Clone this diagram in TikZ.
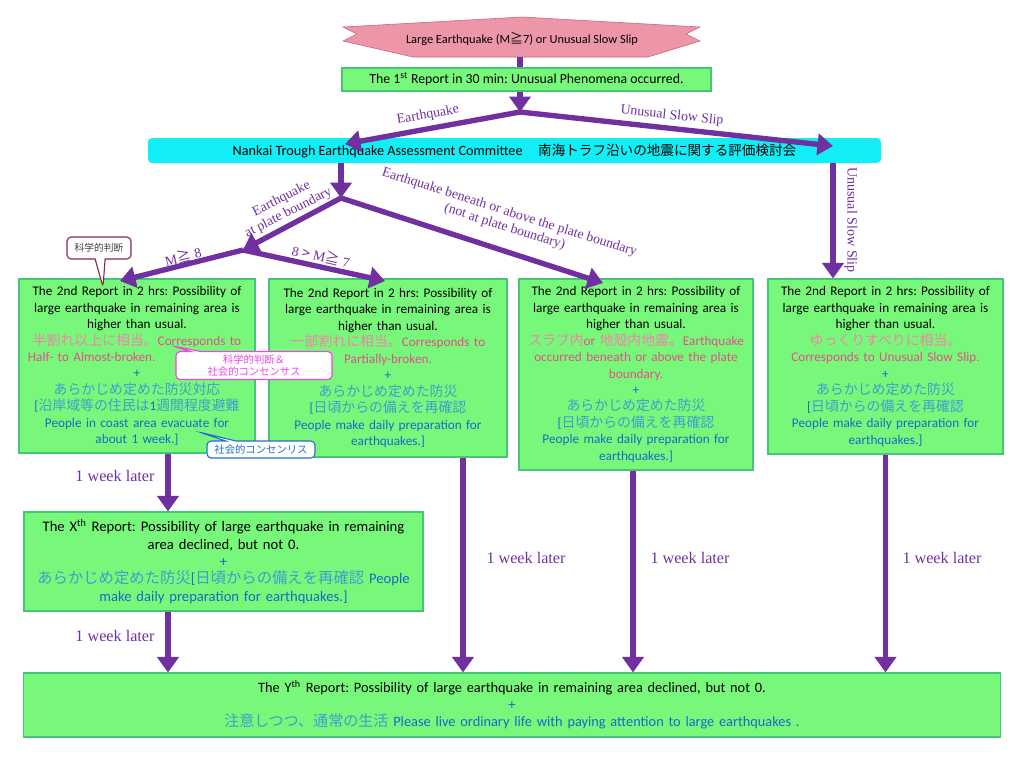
\documentclass[tikz,border=0pt]{standalone}
\usepackage{fontspec}
\setmainfont{Carlito}
\newfontfamily\jp[Scale=1.05]{Noto Sans CJK JP}
\newfontfamily\lblfont{Liberation Serif}
\usetikzlibrary{arrows.meta}
\usetikzlibrary{shapes.callouts}

\definecolor{arrowpurple}{RGB}{112,48,160}
\definecolor{boxgreen}{RGB}{120,248,122}
\definecolor{boxedge}{RGB}{70,196,120}
\definecolor{cttcyan}{RGB}{18,238,246}
\definecolor{starpink}{RGB}{236,150,168}
\definecolor{staredge}{RGB}{205,95,125}
\definecolor{jppink}{RGB}{242,130,172}
\definecolor{enpink}{RGB}{228,78,140}
\definecolor{jpblue}{RGB}{62,158,206}
\definecolor{enblue}{RGB}{26,104,200}
\definecolor{notered}{RGB}{140,40,60}
\definecolor{notemag}{RGB}{238,70,228}
\definecolor{noteblue}{RGB}{40,110,200}

\newcommand\repfont[2]{\fontsize{#1}{#2}\selectfont\frenchspacing\lineskiplimit=-20pt\relax}
\newcommand\jpp[1]{{\color{jppink}\jp #1}}
\newcommand\enp[1]{{\color{enpink}#1}}
\newcommand\jpb[1]{{\color{jpblue}\jp #1}}
\newcommand\enb[1]{{\color{enblue}#1}}
\newcommand\secondhead{The 2nd Report in 2 hrs: Possibility of\\
large earthquake in remaining area is\\
higher than usual.}
\newcommand\dailyprep{\jpb{あらかじめ定めた防災}\\
\enb{[}\jpb{日頃からの備えを再確認}\\
\enb{People make daily preparation for}\\
\enb{earthquakes.]}}

\begin{document}
\begin{tikzpicture}[x=0.025cm, y=-0.025cm]
\tikzstyle{report} = [draw=boxedge, line width=0.8pt, fill=boxgreen, inner sep=0pt, align=center, font=\repfont{9.4}{11.7}]
\tikzstyle{flow} = [draw=arrowpurple, line width=3.8pt, -{Triangle[length=11pt,width=15pt]}]
\tikzstyle{lbl} = [text=arrowpurple, align=center, font=\lblfont\fontsize{9.8}{10.8}\selectfont]
\tikzstyle{later} = [text=arrowpurple, font=\lblfont\fontsize{11.5}{13}\selectfont]
\tikzstyle{note} = [rectangle callout, fill=white, rounded corners=3pt, line width=0.8pt, align=center, inner sep=1pt]
\useasboundingbox (0,0) rectangle (1024,765);

\draw[fill=starpink, draw=staredge] (343,27) -- (522,17) -- (700,27) -- (686,34) -- (700,41) -- (648,57) -- (413,57) -- (343,41) -- (357,34) -- cycle;
\node[font=\repfont{8.8}{10}] (quake) at (522,39) {Large Earthquake (M{\jp ≧}7) or Unusual Slow Slip};
\coordinate (starbot) at (520,57);

\node[report, minimum width=9.225cm, minimum height=0.575cm, font=\repfont{9.8}{11}] (rep1) at (526.5,79.5) {The 1\textsuperscript{st} Report in 30 min: Unusual Phenomena occurred.};
\node[fill=cttcyan, rounded corners=3pt, minimum width=18.325cm, minimum height=0.625cm, inner sep=0pt, font=\repfont{10.1}{11}] (cttee) at (514.5,150.5) {Nankai Trough Earthquake Assessment Committee\hspace{1.1em}{\fontsize{9.2}{11}\selectfont\jp 南海トラフ沿いの地震に関する評価検討会}};

\node[report, text width=5.9cm, minimum height=4.35cm] (rep2a) at (137,366) {\secondhead\\
\jpp{半割れ以上に相当。}\enp{Corresponds to}\\
\makebox[5.45cm][l]{\enp{Half- to Almost-broken.}}\\
\enb{+}\\
\jpb{あらかじめ定めた防災対応}\\
\enb{[}\jpb{沿岸域等の住民は}\enb{1}\jpb{週間程度避難}\\
\enb{People in coast area evacuate for}\\
\enb{about 1 week.]}};
\node[report, text width=5.95cm, minimum height=4.45cm] (rep2b) at (388,368) {\secondhead\\
\jpp{一部割れに相当。}\enp{Corresponds to}\\
\enp{Partially-broken.}\\
\enb{+}\\
\dailyprep};
\node[report, text width=5.85cm, minimum height=4.775cm] (rep2c) at (636,374.5) {\secondhead\\
\jpp{スラブ内}\enp{or }\jpp{地殻内地震。}\enp{Earthquake}\\
\enp{occurred beneath or above the plate}\\
\enp{boundary.}\\
\enb{+}\\
\dailyprep};
\node[report, text width=5.875cm, minimum height=4.375cm] (rep2d) at (885.5,366.5) {\secondhead\\
\jpp{ゆっくりすべりに相当。}\\
\enp{Corresponds to Unusual Slow Slip.}\\
\enb{+}\\
\dailyprep};

\node[report, text width=9.975cm, minimum height=2.475cm, font=\repfont{10.4}{12.4}] (repx) at (223.5,561.5) {The X\textsuperscript{th} Report: Possibility of large earthquake in remaining\\
area declined, but not 0.\\
\enb{+}\\
\jpb{あらかじめ定めた防災}\enb{[}\jpb{日頃からの備えを再確認} \enb{People}\\
\enb{make daily preparation for earthquakes.]}};
\node[report, text width=24.4cm, minimum height=1.6cm, font=\repfont{10.2}{12}] (repy) at (512,705) {The Y\textsuperscript{th} Report: Possibility of large earthquake in remaining area declined, but not 0.\\
\enb{+}\\
\jpb{注意しつつ、通常の生活} \enb{Please live ordinary life with paying attention to large earthquakes .}};

\node[note, draw=notered, text=black!75, minimum width=1.6cm, minimum height=0.55cm, callout absolute pointer={(103,287)}, font=\fontsize{6.6}{7.5}\selectfont] (judge) at (99,248) {\jp 科学的判断};
\node[note, draw=notemag, text=notemag, minimum width=3.9cm, minimum height=0.7cm, callout absolute pointer={(173,346)}, font=\fontsize{7}{9}\selectfont] (judgesoc) at (254,365.5) {\jp 科学的判断＆\\\jp 社会的コンセンサス};
\node[note, draw=noteblue, text=noteblue, minimum width=2.7cm, minimum height=0.425cm, callout absolute pointer={(199,432)}, font=\fontsize{7}{8}\selectfont] (social) at (261,449.5) {\jp 社会的コンセンリス};

\coordinate (fork1) at (520,112);
\coordinate (fork2) at (341,198);
\coordinate (fork3) at (243,250);
\coordinate (eqend) at (345,144);
\coordinate (ssend) at (833,146);
\coordinate (beneath) at (603,283);
\coordinate (m8) at (120,281);
\coordinate (m7) at (385,281);
\coordinate (colx) at (168,500);
\coordinate (colb) at (463,500);
\coordinate (colc) at (633,500);

\draw[draw=arrowpurple, line width=4pt] (starbot) -- (rep1.north -| starbot);
\draw[flow] (rep1.south -| fork1) -- (fork1);
\draw[flow] (fork1) -- (eqend);
\draw[flow] (fork1) -- (ssend);
\draw[flow] (cttee.south -| fork2) -- (fork2);
\draw[flow] (fork2) -- (fork3);
\draw[flow] (fork2) -- (beneath);
\draw[flow] (fork3) -- (m8);
\draw[flow] (fork3) -- (m7);
\draw[flow] (cttee.south -| ssend) -- (rep2d.north -| ssend);
\draw[flow] (rep2a.south -| colx) -- (repx.north -| colx);
\draw[flow] (repx.south -| colx) -- (repy.north -| colx);
\draw[flow] (rep2b.south -| colb) -- (repy.north -| colb);
\draw[flow] (rep2c.south -| colc) -- (repy.north -| colc);
\draw[flow] (rep2d.south) -- (repy.north -| rep2d.south);

\node[lbl, rotate=10] (lbleq) at (428,115) {Earthquake};
\node[lbl, rotate=-6] (lblss) at (672,116) {Unusual Slow Slip};
\node[lbl, rotate=27] (lblplate) at (285,206) {Earthquake\\at plate boundary};
\node[lbl, rotate=-17.5] (lblbeneath) at (507,220) {Earthquake beneath or above the plate boundary\\(not at plate boundary)};
\node[lbl, rotate=14] (lblm8) at (183,256) {M{\jp ≧} 8};
\node[lbl, rotate=-13] (lblm7) at (321,256) {8 {\jp >} M{\jp ≧} 7};
\node[lbl, rotate=-90, font=\lblfont\fontsize{10}{11}\selectfont] (lblssv) at (851,220) {Unusual Slow Slip};
\node[later] (wk1) at (115,476) {1 week later};
\node[later] (wk2) at (115,636) {1 week later};
\node[later] (wk3) at (526,558) {1 week later};
\node[later] (wk4) at (690,558) {1 week later};
\node[later] (wk5) at (942,558) {1 week later};
\end{tikzpicture}
\end{document}
